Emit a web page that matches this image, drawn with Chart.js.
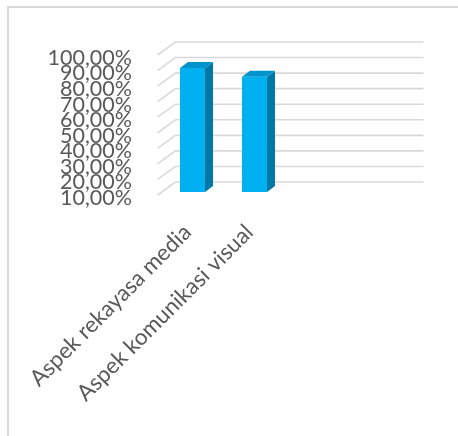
<!DOCTYPE html>
<html>
<head>
<meta charset="UTF-8" />
<title>Aspek</title>
<script src="https://cdn.jsdelivr.net/npm/chart.js"></script>
<style>
  body { margin: 0; background: #fff; }
  #frame { position: absolute; left: 7px; top: 6px; width: 460px; height: 440px; border-top: 2px solid #d9d9d9; border-left: 2px solid #d9d9d9; }
  #wrap { position: absolute; left: 0; top: 0; width: 458px; height: 436px; }
</style>
</head>
<body>
<div id="frame"></div>
<div id="wrap"><canvas id="chart" width="458" height="436"></canvas></div>
<script>
// data
const categories = ["Aspek rekayasa media", "Aspek komunikasi visual", "", ""];
const scores = [89.7, 84.1, null, null];
const yMin = 10;
const yMax = 100;
const yStep = 10;

// 3d look: offsets from the bar plane
const back = { x: 14, y: -10 };
const front = { x: -4, y: 3 };
const depth = { x: 8, y: -6 };

const fontFam = "Lato, 'Open Sans', sans-serif";

const walls3d = {
  id: "walls3d",
  beforeDatasetsDraw(chart) {
    const ctx = chart.ctx;
    const a = chart.chartArea;
    const ys = chart.scales.y;
    ctx.save();
    ctx.strokeStyle = "#d9d9d9";
    ctx.lineWidth = 1.6;
    for (let v = yMin; v <= yMax; v += yStep) {
      const y = ys.getPixelForValue(v);
      ctx.beginPath();
      ctx.moveTo(a.left + front.x, y + front.y);
      ctx.lineTo(a.left + back.x, y + back.y);
      ctx.lineTo(a.right + back.x, y + back.y);
      ctx.stroke();
    }
    ctx.restore();
  },
  afterDatasetsDraw(chart) {
    const ctx = chart.ctx;
    const a = chart.chartArea;
    const meta = chart.getDatasetMeta(0);
    ctx.save();
    meta.data.forEach((bar, i) => {
      if (scores[i] == null) return;
      const p = bar.getProps(["x", "y", "base", "width"], true);
      const base = Math.min(p.base, a.bottom);
      const l = p.x - p.width / 2, r = p.x + p.width / 2;
      // side
      ctx.fillStyle = "#0078a6";
      ctx.beginPath();
      ctx.moveTo(r, p.y);
      ctx.lineTo(r + depth.x, p.y + depth.y);
      ctx.lineTo(r + depth.x, base + depth.y);
      ctx.lineTo(r, base);
      ctx.closePath();
      ctx.fill();
      // top
      ctx.fillStyle = "#0093cc";
      ctx.beginPath();
      ctx.moveTo(l, p.y);
      ctx.lineTo(l + depth.x, p.y + depth.y);
      ctx.lineTo(r + depth.x, p.y + depth.y);
      ctx.lineTo(r, p.y);
      ctx.closePath();
      ctx.fill();
    });
    ctx.restore();
  }
};

new Chart(document.getElementById("chart"), {
  type: "bar",
  data: {
    labels: categories,
    datasets: [{
      data: scores,
      backgroundColor: "#00b0f0",
      barPercentage: 0.403,
      categoryPercentage: 1
    }]
  },
  options: {
    responsive: false,
    animation: false,
    events: [],
    layout: { padding: { left: 0, top: 52, right: 48.5, bottom: 0 } },
    plugins: { legend: { display: false }, tooltip: { enabled: false } },
    scales: {
      x: {
        grid: { display: false, drawTicks: false },
        border: { display: false },
        ticks: {
          autoSkip: false,
          minRotation: 45,
          maxRotation: 45,
          padding: 27,
          labelOffset: -5,
          color: "#595959",
          font: { family: fontFam, size: 22.5 }
        },
        afterFit(scale) {
          scale.height = 244;
          scale.paddingLeft = 0;
          scale.paddingRight = 0;
        }
      },
      y: {
        min: yMin,
        max: yMax,
        grid: { display: false, drawTicks: false },
        border: { display: false },
        ticks: {
          autoSkip: false,
          stepSize: yStep,
          padding: 29.5,
          labelOffset: 6,
          color: "#595959",
          font: { family: fontFam, size: 21.5 },
          callback: v => v.toFixed(2).replace(".", ",") + "%"
        },
        afterFit(scale) {
          scale.width = 161.5;
          scale.paddingTop = 0;
          scale.paddingBottom = 0;
        }
      }
    }
  },
  plugins: [walls3d]
});
</script>
</body>
</html>
